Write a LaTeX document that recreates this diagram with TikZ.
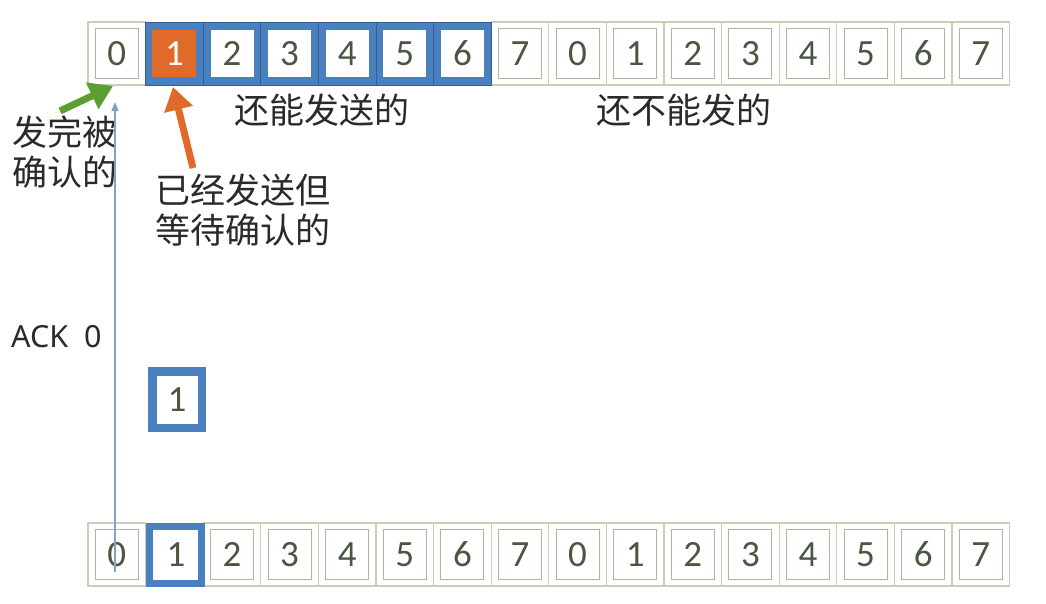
\documentclass[tikz,border=0pt]{standalone}
\usepackage{fontspec}
\setmainfont{Carlito}
\newfontfamily\cjk{Noto Sans CJK SC}
\newfontfamily\acksans{Noto Sans}
\usetikzlibrary{arrows.meta}
\definecolor{cellout}{HTML}{C4D1B4}
\definecolor{cellin}{HTML}{A8B89A}
\definecolor{digit}{HTML}{4A5640}
\definecolor{winblue}{HTML}{4A80BE}
\definecolor{winline}{HTML}{2F5E95}
\definecolor{sentorange}{HTML}{E06A2A}
\definecolor{ackgreen}{HTML}{5C9E31}
\definecolor{ackline}{HTML}{8A9CC8}
\definecolor{txt}{HTML}{2A2A2A}
\tikzset{
  outercell/.style={draw=cellout, line width=1.2pt, minimum width=57.6pt, minimum height=63pt, inner sep=0pt},
  bluecell/.style={draw=winline, fill=winblue, line width=1pt, minimum width=57.6pt, minimum height=63pt, inner sep=0pt},
  innercell/.style={draw=cellin, fill=white, line width=1pt, minimum width=43pt, minimum height=50pt, inner sep=0pt, text=digit, font=\fontsize{37}{37}\selectfont},
  bluein/.style={fill=white, minimum width=43pt, minimum height=47pt, inner sep=0pt, text=digit, font=\fontsize{37}{37}\selectfont},
  orangein/.style={fill=sentorange, minimum width=44pt, minimum height=47pt, inner sep=0pt, text=white, font=\fontsize{37}{37}\selectfont},
  frame/.style={draw=winblue, fill=white, line width=7pt, minimum width=52pt, minimum height=57pt, inner sep=0pt, text=digit, font=\fontsize{37}{37}\selectfont},
  lonebox/.style={draw=winblue, fill=white, line width=8.5pt, minimum width=49.5pt, minimum height=56.5pt, inner sep=0pt, text=digit, font=\fontsize{37}{37}\selectfont},
  label/.style={inner sep=0pt, text=txt, font=\cjk\fontsize{35}{40}\selectfont, align=left},
  bigarrow/.style={line width=7pt, -{Triangle[length=23pt,width=28pt]}},
  ackarrow/.style={draw=ackline, line width=1.3pt, -{Triangle[length=9pt,width=7pt]}}
}
\begin{document}
\begin{tikzpicture}[x=1pt,y=-1pt]
\useasboundingbox[fill=white] (0,0) rectangle (1046,603);
% top row
\foreach \i/\d in {0/0,7/7,8/0,9/1,10/2,11/3,12/4,13/5,14/6,15/7}{
  \node[outercell] (t\i) at ({88+57.6*(\i+0.5)},53.5) {};
  \node[innercell] (ti\i) at (t\i) {\d};
}
\foreach \i in {1,...,6}{
  \node[bluecell] (t\i) at ({88+57.6*(\i+0.5)},53.5) {};
}
\node[orangein] (ti1) at (t1) {1};
\foreach \i in {2,...,6}{
  \node[bluein] (ti\i) at (t\i) {\i};
}
% bottom row
\foreach \i/\d in {0/0,2/2,3/3,4/4,5/5,6/6,7/7,8/0,9/1,10/2,11/3,12/4,13/5,14/6,15/7}{
  \node[outercell] (b\i) at ({88+57.6*(\i+0.5)},554.5) {};
  \node[innercell] (bi\i) at (b\i) {\d};
}
\node[frame] (b1) at ({88+57.6*1.5+1.5},555) {1};
% lone frame
\node[lonebox] (lone) at (177,399.5) {1};
% labels
\node[label, anchor=west] (acked) at (12,152) {发完被\\确认的};
\node[label, anchor=west] (waiting) at (155,210) {已经发送但\\等待确认的};
\node[label, anchor=west] (cansend) at (234,110) {还能发送的};
\node[label, anchor=west] (cannot) at (596,110) {还不能发的};
\node[inner sep=0pt, anchor=west, text=txt, font=\acksans\fontsize{30.5}{30.5}\selectfont] (ack) at (11,337) {ACK\ \ 0};
% arrows
\coordinate (gtail) at (60,111);
\coordinate (gtip) at (113,86);
\coordinate (otail) at (193,168);
\coordinate (otip) at (173,87);
\coordinate (abottom) at (115,572);
\coordinate (atop) at (115,102);
\draw[bigarrow, draw=ackgreen, fill=ackgreen] (gtail) -- (gtip);
\draw[bigarrow, draw=sentorange, fill=sentorange] (otail) -- (otip);
\draw[ackarrow, fill=ackline] (abottom) -- (atop);
\end{tikzpicture}
\end{document}
